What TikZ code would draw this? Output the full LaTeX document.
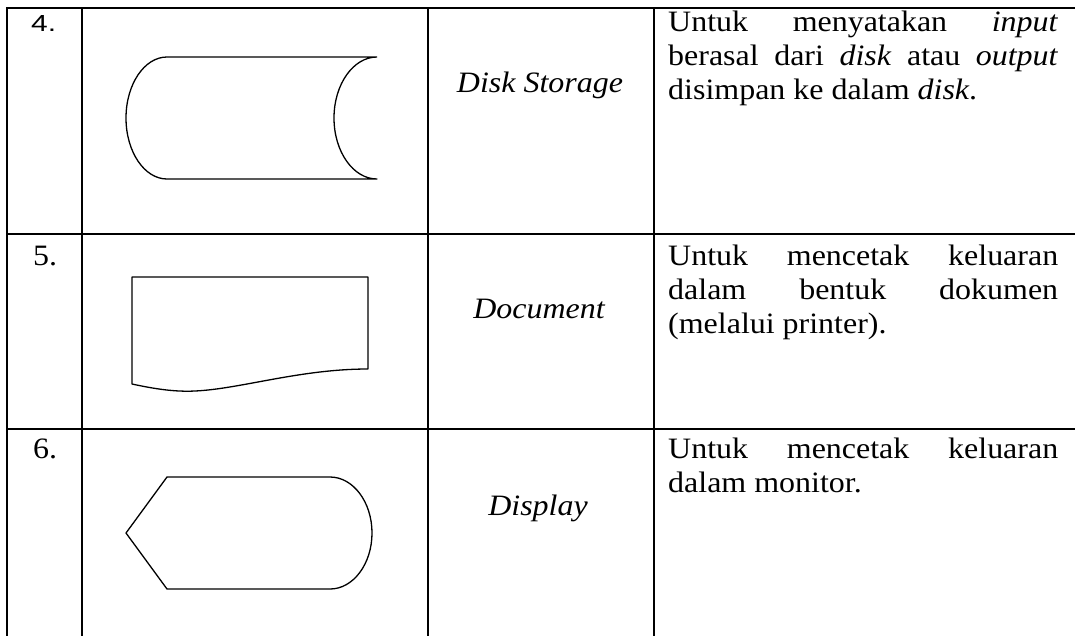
\documentclass[tikz,border=0pt]{standalone}
\usepackage{graphicx}
\usepackage{fontspec}
\setmainfont{Liberation Serif}[FakeStretch=1.08]
\newfontfamily\numsans{Liberation Sans}
% one justified line of the description column
\newcommand\jline[1]{\makebox[390pt][s]{#1}}
\begin{document}
\begin{tikzpicture}[x=1pt,y=-1pt,
  grid/.style={line width=1.8pt,line cap=rect},
  symb/.style={line width=1.3pt,line join=round},
  txt/.style={inner sep=0pt,anchor=base west,font=\fontsize{29.6pt}{34pt}\selectfont},
  lbl/.style={inner sep=0pt,anchor=base,font=\fontsize{29.6pt}{34pt}\selectfont\itshape}]
\useasboundingbox (0,0) rectangle (1075,635);

% table rules
\draw[grid] (7,8) -- (1075,8);
\draw[grid] (7,234) -- (1075,234);
\draw[grid] (7,429) -- (1075,429);
\draw[grid] (7,8) -- (7,635);
\draw[grid] (82,8) -- (82,635);
\draw[grid] (428,8) -- (428,635);
\draw[grid] (654,8) -- (654,635);

% row numbers
\node[inner sep=0pt,anchor=base west] (n4) at (31,31)
  {\resizebox{25pt}{16pt}{\numsans 4.}};
\node[txt] (n5) at (33,265) {5.};
\node[txt] (n6) at (33,458) {6.};

% disk storage symbol
\draw[symb] (377,57) -- (167,57)
  .. controls (144.4,57) and (126,84.3) .. (126,118)
  .. controls (126,151.7) and (144.4,179) .. (167,179) -- (377,179)
  .. controls (353.3,179) and (334,151.7) .. (334,118)
  .. controls (334,84.3) and (353.3,57) .. (377,57);

% document symbol
\draw[symb] (132,384) -- (132,277) -- (368,277) -- (368,369)
  .. controls (300,369) and (240,389) .. (195,391)
  .. controls (175,392) and (155,389) .. (132,384) -- cycle;

% display symbol
\draw[symb] (126,533) -- (167,477) -- (330,477)
  .. controls (353.2,477) and (372,502.1) .. (372,533)
  .. controls (372,563.9) and (353.2,589) .. (330,589)
  -- (167,589) -- cycle;

% symbol names
\node[lbl] (l4) at (540,92) {Disk Storage};
\node[lbl] (l5) at (539,318) {Document};
\node[lbl] (l6) at (538,515) {Display};

% descriptions
\node[txt] (d4a) at (668,31.5) {\jline{Untuk menyatakan \textit{input}}};
\node[txt] (d4b) at (668,65.5) {\jline{berasal dari \textit{disk} atau \textit{output}}};
\node[txt] (d4c) at (668,99.5) {disimpan ke dalam \textit{disk}.};

\node[txt] (d5a) at (668,265) {\jline{Untuk mencetak keluaran}};
\node[txt] (d5b) at (668,299) {\jline{dalam bentuk dokumen}};
\node[txt] (d5c) at (668,333) {(melalui printer).};

\node[txt] (d6a) at (668,458) {\jline{Untuk mencetak keluaran}};
\node[txt] (d6b) at (668,492) {dalam monitor.};
\end{tikzpicture}
\end{document}
